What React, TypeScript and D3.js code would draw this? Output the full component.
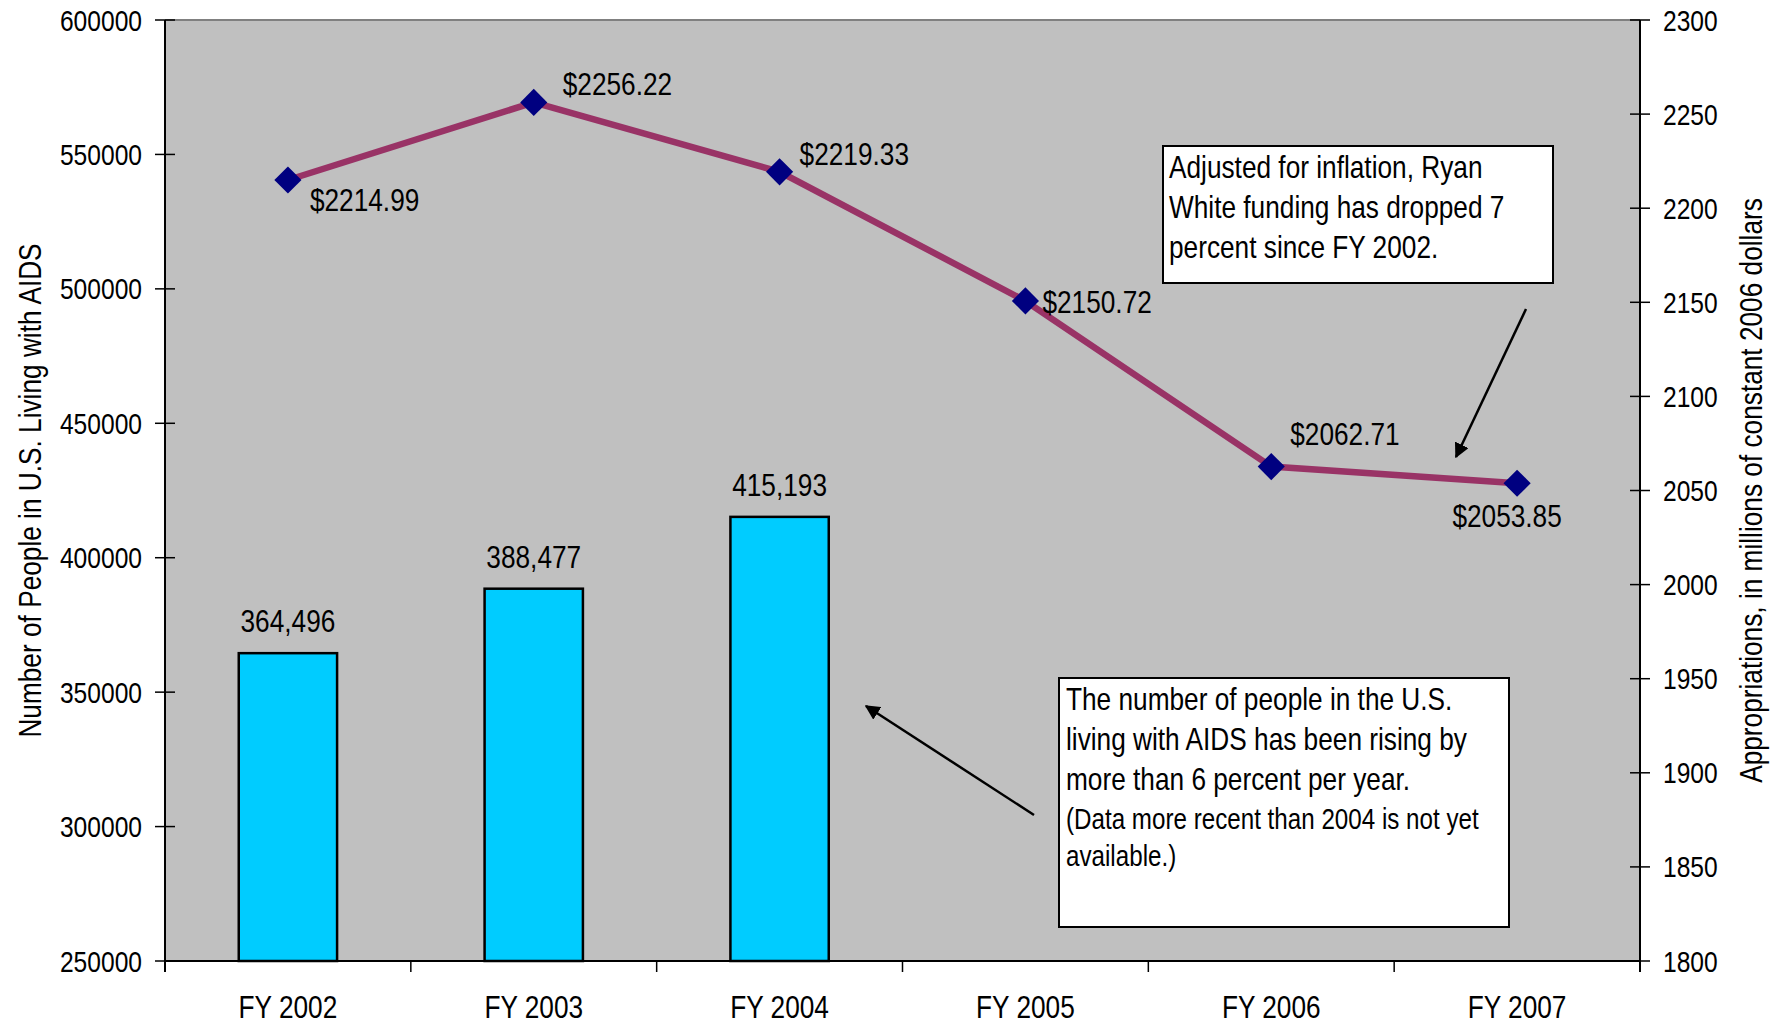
import React from "react";
import * as d3 from "d3";

const categories = ["FY 2002", "FY 2003", "FY 2004", "FY 2005", "FY 2006", "FY 2007"];
const peopleLiving = [364496, 388477, 415193];
const peopleLabels = ["364,496", "388,477", "415,193"];
const appropriations = [2214.99, 2256.22, 2219.33, 2150.72, 2062.71, 2053.85];
const leftTicks = [250000, 300000, 350000, 400000, 450000, 500000, 550000, 600000];
const rightTicks = [1800, 1850, 1900, 1950, 2000, 2050, 2100, 2150, 2200, 2250, 2300];
const note1 = ["Adjusted for inflation, Ryan", "White funding has dropped 7", "percent since FY 2002."];
const note2 = ["The number of people in the U.S.", "living with AIDS has been rising by", "more than 6 percent per year."];
const note2small = ["(Data more recent than 2004 is not yet", "available.)"];
const leftTitle = "Number of People in U.S. Living with AIDS";
const rightTitle = "Appropriations, in millions of constant 2006 dollars";

// label placement relative to each point [dx, dy(baseline), anchor]
const lineLabelPlacement: [number, number, string][] = [
  [22, 31, "start"],
  [29, -7, "start"],
  [20, -7, "start"],
  [17, 12, "start"],
  [19, -22, "start"],
  [-10, 44, "middle"],
];

const W = 1774;
const H = 1026;
const L = 165, R = 1640, T = 20, B = 961;
const FONT = "'Liberation Sans', Arial, sans-serif";
const SX = 0.82; // narrow font emulation

function NText(props: {
  x: number;
  y: number;
  size: number;
  anchor?: string;
  rotate?: number;
  children: React.ReactNode;
}) {
  const { x, y, size, anchor = "start", rotate = 0, children } = props;
  const tr = `translate(${x},${y})${rotate ? ` rotate(${rotate})` : ""} scale(${SX},1)`;
  return (
    <text transform={tr} textAnchor={anchor as any} fontSize={size} fill="#000">
      {children}
    </text>
  );
}

export default function App() {
  const x = d3.scaleBand<string>().domain(categories).range([L, R]).paddingInner(0).paddingOuter(0);
  const bw = x.bandwidth();
  const yL = d3.scaleLinear().domain([250000, 600000]).range([B, T]);
  const yR = d3.scaleLinear().domain([1800, 2300]).range([B, T]);
  const cx = (c: string) => (x(c) as number) + bw / 2;

  const line = d3
    .line<number>()
    .x((_, i) => cx(categories[i]))
    .y((d) => yR(d));

  const diamond = d3.symbol().type(d3.symbolDiamond2 || d3.symbolSquare).size(470)();

  return (
    <svg width={W} height={H} style={{ position: "absolute", left: 0, top: 0, fontFamily: FONT }}>
      <defs>
        <marker id="ah" viewBox="0 0 10 10" refX="9" refY="5" markerWidth="6" markerHeight="6" orient="auto-start-reverse" markerUnits="strokeWidth">
          <path d="M0,0 L10,5 L0,10 z" fill="#000" />
        </marker>
      </defs>
      <rect x={0} y={0} width={W} height={H} fill="#fff" />
      <rect x={L} y={T} width={R - L} height={B - T} fill="#C0C0C0" />
      <line x1={L} x2={R} y1={T} y2={T} stroke="#808080" strokeWidth={2} />

      {/* bars */}
      {peopleLiving.map((v, i) => {
        const c = categories[i];
        const w = bw * 0.4;
        const x0 = cx(c) - w / 2;
        return (
          <g key={c}>
            <rect x={x0} y={yL(v)} width={w} height={B - yL(v)} fill="#00CCFF" stroke="#000" strokeWidth={2.5} />
            <NText x={cx(c)} y={yL(v) - 21} size={32} anchor="middle">
              {peopleLabels[i]}
            </NText>
          </g>
        );
      })}

      {/* line */}
      <path d={line(appropriations) || ""} fill="none" stroke="#993366" strokeWidth={6.5} />
      {appropriations.map((v, i) => (
        <path key={i} d={diamond || ""} transform={`translate(${cx(categories[i])},${yR(v)})`} fill="#000080" />
      ))}
      {appropriations.map((v, i) => {
        const [dx, dy, anchor] = lineLabelPlacement[i];
        return (
          <NText key={i} x={cx(categories[i]) + dx} y={yR(v) + dy} size={32} anchor={anchor}>
            {"$" + v.toFixed(2)}
          </NText>
        );
      })}

      {/* axes */}
      <line x1={L} x2={L} y1={T} y2={B + 11} stroke="#000" strokeWidth={2} />
      <line x1={R} x2={R} y1={T} y2={B + 11} stroke="#000" strokeWidth={2} />
      <line x1={L} x2={R} y1={B} y2={B} stroke="#000" strokeWidth={2} />
      {leftTicks.map((t) => (
        <g key={t}>
          <line x1={L - 10} x2={L + 10} y1={yL(t)} y2={yL(t)} stroke="#000" strokeWidth={1.5} />
          <NText x={142} y={yL(t) + 10.5} size={30} anchor="end">
            {t}
          </NText>
        </g>
      ))}
      {rightTicks.map((t) => (
        <g key={t}>
          <line x1={R - 10} x2={R + 10} y1={yR(t)} y2={yR(t)} stroke="#000" strokeWidth={1.5} />
          <NText x={1663} y={yR(t) + 10.5} size={30} anchor="start">
            {t}
          </NText>
        </g>
      ))}
      {categories.map((c, i) => (
        <g key={c}>
          {i > 0 && <line x1={x(c) as number} x2={x(c) as number} y1={B} y2={B + 11} stroke="#000" strokeWidth={1.5} />}
          <NText x={cx(c)} y={1018} size={32} anchor="middle">
            {c}
          </NText>
        </g>
      ))}

      {/* axis titles */}
      <NText x={41} y={(T + B) / 2} size={32} anchor="middle" rotate={-90}>
        {leftTitle}
      </NText>
      <NText x={1762} y={(T + B) / 2} size={32} anchor="middle" rotate={-90}>
        {rightTitle}
      </NText>

      {/* note 1 */}
      <rect x={1163} y={146} width={390} height={137} fill="#fff" stroke="#000" strokeWidth={2} />
      {note1.map((s, i) => (
        <NText key={i} x={1169} y={178 + i * 40} size={32}>
          {s}
        </NText>
      ))}

      {/* note 2 */}
      <rect x={1059} y={678} width={450} height={249} fill="#fff" stroke="#000" strokeWidth={2} />
      {note2.map((s, i) => (
        <NText key={i} x={1066} y={710 + i * 40} size={32}>
          {s}
        </NText>
      ))}
      {note2small.map((s, i) => (
        <NText key={i} x={1066} y={829 + i * 37} size={29.5}>
          {s}
        </NText>
      ))}

      {/* arrows */}
      <line x1={1034} y1={815} x2={866} y2={706} stroke="#000" strokeWidth={2.5} markerEnd="url(#ah)" />
      <line x1={1526} y1={309} x2={1456} y2={457} stroke="#000" strokeWidth={2.5} markerEnd="url(#ah)" />
    </svg>
  );
}
